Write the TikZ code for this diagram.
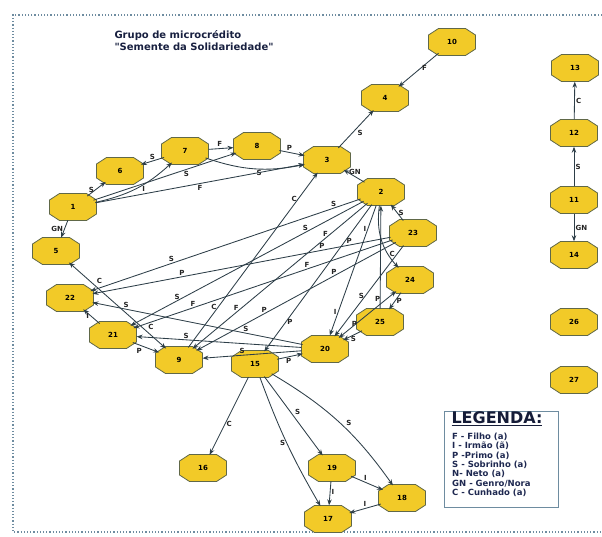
\documentclass[tikz,border=0pt]{standalone}
\usepackage{fontspec}
\setmainfont{DejaVu Sans}
\usetikzlibrary{shapes.geometric,arrows.meta}
\definecolor{famfill}{RGB}{242,202,40}
\definecolor{famline}{RGB}{96,104,72}
\definecolor{tiecol}{RGB}{45,62,72}
\definecolor{labcol}{RGB}{35,35,35}
\definecolor{framecol}{RGB}{110,140,160}
\definecolor{legcol}{RGB}{30,40,80}
\tikzset{x=1pt, y=-1pt,
    octa/.style={draw=famline, fill=famfill, line width=0.8pt, line join=round},
    member/.style={ellipse, minimum width=47pt, minimum height=27pt, inner sep=0pt,
        font=\fontsize{7}{7}\selectfont\bfseries},
    tie/.style={draw=tiecol, line width=0.85pt, -{Stealth[length=6pt,width=4.5pt]}},
    tietwo/.style={tie, {Stealth[length=6pt,width=4.5pt]}-{Stealth[length=6pt,width=4.5pt]}},
    rel/.style={font=\fontsize{7}{7}\selectfont\bfseries, text=labcol, inner sep=1.2pt},
    }
% octogono + no com nome
\newcommand{\membro}[3]{%
    \draw[octa] (#2) ++(-23.5,-7) -- ++(10,-6.5) -- ++(27,0) -- ++(10,6.5) -- ++(0,14)
        -- ++(-10,6.5) -- ++(-27,0) -- ++(-10,-6.5) -- cycle;
    \node[member] (#1) at (#2) {#3};}

\begin{document}
\begin{tikzpicture}
\useasboundingbox (0,0) rectangle (602,536);
% moldura
\draw[framecol, line width=1.2pt, dotted] (602,15) -- (13,15) -- (13,532) -- (602,532);
\node[anchor=north west, align=left, text=legcol!80!black, font=\fontsize{10}{12}\selectfont\bfseries]
    (titulo) at (111,27) {Grupo de microcrédito\\\textquotedbl Semente da Solidariedade\textquotedbl};

% membros
\membro{n1}{73,207}{1}
\membro{n2}{381,192}{2}
\membro{n3}{327,160}{3}
\membro{n4}{385,98}{4}
\membro{n5}{56,251}{5}
\membro{n6}{120,171}{6}
\membro{n7}{185,151}{7}
\membro{n8}{257,146}{8}
\membro{n9}{179,360}{9}
\membro{n10}{452,42}{10}
\membro{n11}{574,200}{11}
\membro{n12}{574,133}{12}
\membro{n13}{575,68}{13}
\membro{n14}{574,255}{14}
\membro{n15}{255,364}{15}
\membro{n16}{203,468}{16}
\membro{n17}{328,519}{17}
\membro{n18}{402,498}{18}
\membro{n19}{332,468}{19}
\membro{n20}{325,349}{20}
\membro{n21}{113,335}{21}
\membro{n22}{70,298}{22}
\membro{n23}{413,233}{23}
\membro{n24}{410,280}{24}
\membro{n25}{380,322}{25}
\membro{n26}{574,322}{26}
\membro{n27}{574,380}{27}

% lacos
\draw[tie] (n10) -- node[rel, pos=.45, right] {F} (n4);
\draw[tie] (n3) -- node[rel, pos=.5, below right] {S} (n4);
\draw[tie] (n2) -- node[rel, pos=.45, above] {GN} (n3);
\draw[tie] (n1) -- node[rel, pos=.45, left] {S} (n6);
\draw[tie] (n7) -- node[rel, pos=.5, above] {S} (n6);
\draw[tie] (n1) to[bend right=15] node[rel, pos=.6, below] {I} (n7);
\draw[tie] (n7) -- node[rel, pos=.45, above] {F} (n8);
\draw[tie] (n8) -- node[rel, pos=.4, above] {P} (n3);
\draw[tie] (n7) to[bend right=15] node[rel, pos=.55, below] {S} (n3);
\draw[tie] (n1) -- node[rel, pos=.65, below] {S} (n8);
\draw[tie] (n1) -- node[rel, pos=.5, below] {F} (n3);
\draw[tie] (n1) -- node[rel, pos=.5, left] {GN} (n5);
\draw[tie] (n9) -- node[rel, pos=.23, left] {C} node[rel, pos=.85, left] {C} (n3);
\draw[tie] (n11) -- node[rel, right] {S} (n12);
\draw[tie] (n12) -- node[rel, right] {C} (n13);
\draw[tie] (n11) -- node[rel, right] {GN} (n14);

\draw[tie] (n2) -- node[rel, pos=.1, above] {S} node[rel, pos=.7, above] {S} (n22);
\draw[tie] (n23) -- node[rel, pos=.23, above] {P} node[rel, pos=.7, above] {P} (n22);
\draw[tie] (n2) -- node[rel, pos=.25, above] {S} node[rel, pos=.8, above] {S} (n21);
\draw[tie] (n23) -- node[rel, pos=.33, above] {F} node[rel, pos=.77, above] {F} (n21);
\draw[tie] (n2) -- node[rel, pos=.24, above] {F} node[rel, pos=.75, above] {F} (n9);
\draw[tie] (n23) -- node[rel, pos=.31, above] {P} node[rel, pos=.66, above] {P} (n9);
\draw[tie] (n2) -- node[rel, pos=.25, right] {P} node[rel, pos=.8, right] {P} (n15);
\draw[tie] (n2) -- node[rel, pos=.18, left] {I} node[rel, pos=.82, left] {I} (n20);
\draw[tie] (n23) -- node[rel, pos=.55, left] {S} (n20);
\draw[tietwo] (n24) -- node[rel, pos=.25, above left] {P} node[rel, pos=.8, above right] {P} (n20);
\draw[tie] (n24) -- node[rel, pos=.5, right] {P} (n25);
\draw[tie] (n25) -- node[rel, pos=.45, below] {S} (n20);
\draw[tie] (n25) -- (n2);
\draw[tie] (n2) to[bend right=25] node[rel, pos=.75, right] {C} (n24);
\draw[tie] (n23) -- node[rel, pos=.5, right] {S} (n2);
\draw[tie] (n20) -- node[rel, pos=.27, above] {S} node[rel, pos=.84, above] {S} (n22);
\draw[tie] (n20) -- node[rel, pos=.7, above] {S} (n21);
\draw[tie] (n20) -- node[rel, pos=.6, above] {S} (n9);
\draw[tie] (n21) -- node[rel, pos=.4, below left] {P} (n9);
\draw[tie] (n21) -- node[rel, pos=.55, left] {I} (n22);
\draw[tietwo] (n5) -- node[rel, pos=.27, above right] {C} node[rel, pos=.8, above right] {C} (n9);
\draw[tie] (n15) -- node[rel, pos=.45, below] {P} (n20);

\draw[tie] (n15) -- node[rel, pos=.6, right] {C} (n16);
\draw[tie] (n15) to[bend right=5] node[rel, pos=.5, left] {S} (n17);
\draw[tie] (n15) -- node[rel, pos=.5, above right] {S} (n19);
\draw[tie] (n15) to[bend left=12] node[rel, pos=.55, above right] {S} (n18);
\draw[tie] (n19) -- node[rel, pos=.45, above] {I} (n18);
\draw[tie] (n19) -- node[rel, pos=.45, right] {I} (n17);
\draw[tie] (n18) -- node[rel, pos=.5, above] {I} (n17);

% legenda
\node[draw=framecol, line width=1pt, minimum width=114pt, minimum height=96pt] (legenda) at (501,459) {};
\node[font=\fontsize{16}{16}\selectfont\bfseries, text=legcol!70!black] (legtitulo) at (497,419) {\underline{LEGENDA:}};
\node[anchor=north west, align=left, inner sep=0pt, text=legcol, font=\fontsize{8.5}{9.3}\selectfont\bfseries]
    (legitens) at (452,433) {F - Filho (a)\\I - Irmão (ã)\\P -Primo (a)\\S - Sobrinho (a)\\N- Neto (a)\\GN - Genro/Nora\\C - Cunhado (a)};
\end{tikzpicture}
\end{document}
